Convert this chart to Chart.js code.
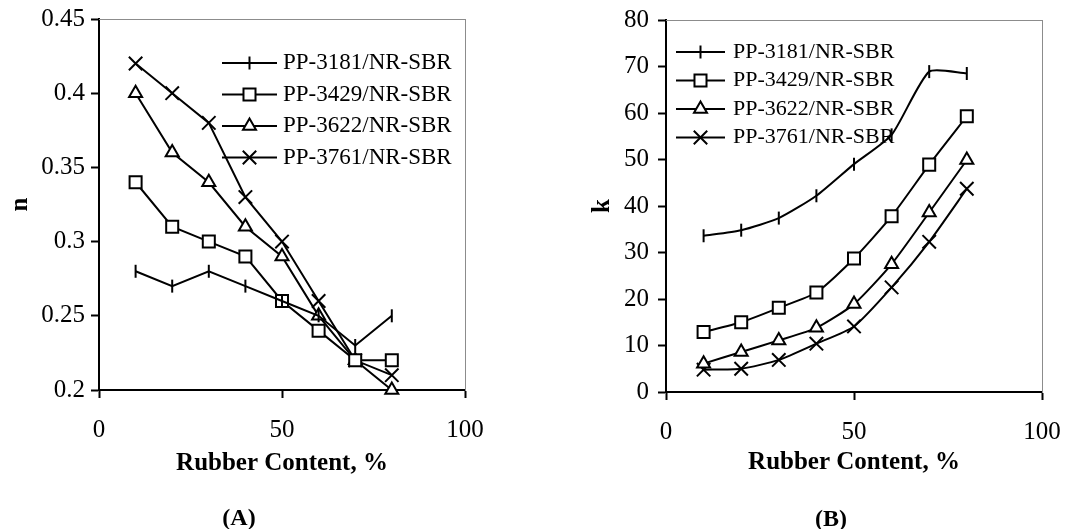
<!DOCTYPE html>
<html><head><meta charset="utf-8">
<script src="https://cdn.jsdelivr.net/npm/chart.js@4/dist/chart.umd.min.js"></script>
<style>
html,body{margin:0;padding:0;background:#fff;}
#wrap{position:relative;width:1076px;height:529px;overflow:hidden;background:#fff;}
.box{position:absolute;top:0;height:529px;}
.cap{position:absolute;font:bold 24px "Liberation Serif";color:#000;transform:translate(-50%,-50%);white-space:nowrap;}
</style></head><body>
<div id="wrap">
<div class="box" style="left:0;width:540px"><canvas id="cA"></canvas></div>
<div class="box" style="left:540px;width:536px"><canvas id="cB"></canvas></div>
<div class="cap" style="left:239px;top:517px">(A)</div>
<div class="cap" style="left:831px;top:518px">(B)</div>
</div>
<script>
// ---- data ----
const rubberContent = [10, 20, 30, 40, 50, 60, 70, 80];
const seriesNames = ['PP-3181/NR-SBR', 'PP-3429/NR-SBR', 'PP-3622/NR-SBR', 'PP-3761/NR-SBR'];

const n3181 = [0.28, 0.27, 0.28, 0.27, 0.26, 0.25, 0.23, 0.25];
const n3429 = [0.34, 0.31, 0.30, 0.29, 0.26, 0.24, 0.22, 0.22];
const n3622 = [0.40, 0.36, 0.34, 0.31, 0.29, 0.25, 0.22, 0.20];
const n3761 = [0.42, 0.40, 0.38, 0.33, 0.30, 0.26, 0.22, 0.21];

const k3181 = [33.6, 34.8, 37.4, 42.2, 49.0, 55.3, 68.9, 68.5];
const k3429 = [12.9, 15.0, 18.1, 21.4, 28.7, 37.8, 48.9, 59.3];
const k3622 = [6.1, 8.6, 11.1, 13.8, 18.9, 27.5, 38.6, 49.9];
const k3761 = [4.8, 5.0, 6.9, 10.4, 14.1, 22.5, 32.3, 43.7];

const xTickValues = [0, 50, 100];
const xTickLabels = ['0', '50', '100'];
const nTickLabels = ['0.2', '0.25', '0.3', '0.35', '0.4', '0.45'];
const kTickLabels = ['0', '10', '20', '30', '40', '50', '60', '70', '80'];

const xTitle = 'Rubber Content, %';

// ---- styles ----
const FONT = 'Liberation Serif';
const markerStyles = [
  {pointStyle: 'line', rotation: 90, radius: 6.5},
  {pointStyle: 'rect', rotation: 0, radius: 8.5},
  {pointStyle: 'triangle', rotation: 0, radius: 7.5},
  {pointStyle: 'crossRot', rotation: 0, radius: 9.5}
];

function pts(vals) { return rubberContent.map((x, i) => ({x: x, y: vals[i]})); }

function makeDatasets(seriesList, tension) {
  return seriesList.map((vals, i) => ({
    label: seriesNames[i],
    data: pts(vals),
    borderColor: '#000',
    backgroundColor: '#fff',
    borderWidth: 2,
    pointBorderColor: '#000',
    pointBackgroundColor: '#fff',
    pointBorderWidth: 2,
    pointStyle: markerStyles[i].pointStyle,
    pointRotation: markerStyles[i].rotation,
    pointRadius: markerStyles[i].radius,
    tension: tension,
    clip: false,
    fill: false
  }));
}

const inlineLegend = {
  id: 'inlineLegend',
  afterDatasetsDraw(chart, args, o) {
    const ctx = chart.ctx, a = chart.chartArea;
    ctx.save();
    chart.data.datasets.forEach((ds, i) => {
      const y = a.top + o.top + i * o.rowH;
      const x0 = a.left + o.left, x1 = x0 + o.lineLen;
      ctx.strokeStyle = '#000'; ctx.lineWidth = 2;
      ctx.beginPath(); ctx.moveTo(x0, y); ctx.lineTo(x1, y); ctx.stroke();
      const el = chart.getDatasetMeta(i).data[0];
      if (el) {
        const ox = el.x, oy = el.y;
        el.x = (x0 + x1) / 2; el.y = y;
        el.draw(ctx, {left: -1e5, top: -1e5, right: 1e5, bottom: 1e5});
        el.x = ox; el.y = oy;
      }
      ctx.fillStyle = '#000';
      ctx.font = o.fontSize + 'px "' + FONT + '"';
      ctx.textAlign = 'left'; ctx.textBaseline = 'middle';
      ctx.fillText(ds.label, x1 + o.gap, y);
    });
    ctx.restore();
  }
};

function makeChart(id, cfg) {
  return new Chart(document.getElementById(id), {
    type: 'line',
    data: {datasets: makeDatasets(cfg.series, cfg.tension)},
    plugins: [inlineLegend],
    options: {
      responsive: true,
      maintainAspectRatio: false,
      animation: false,
      events: [],
      layout: {padding: cfg.pad},
      plugins: {
        legend: {display: false},
        tooltip: {enabled: false},
        inlineLegend: cfg.legend
      },
      scales: {
        x: {
          type: 'linear', position: 'bottom', min: 0, max: 100,
          ticks: {stepSize: 50, color: '#000', font: {family: FONT, size: 25}, padding: 17, maxRotation: 0,
            callback: (v) => { const j = xTickValues.indexOf(v); return j >= 0 ? xTickLabels[j] : ''; }},
          grid: {display: true, drawOnChartArea: false, drawTicks: true, tickLength: 8, tickWidth: 2, tickColor: '#000'},
          border: {display: true, color: '#000', width: 2},
          title: {display: true, text: xTitle, color: '#000', font: {family: FONT, size: 25, weight: 'bold'}, padding: {top: 0, bottom: cfg.xTitlePadB}},
          afterFit: (s) => { s.height = cfg.xH; s.paddingLeft = 0; s.paddingRight = 0; }
        },
        y: {
          type: 'linear', position: 'left', min: cfg.yMin, max: cfg.yMax,
          ticks: {stepSize: cfg.yStep, color: '#000', font: {family: FONT, size: 25}, padding: cfg.yPad,
            callback: (v, i) => cfg.yLabels[i] !== undefined ? cfg.yLabels[i] : ''},
          grid: {display: true, drawOnChartArea: false, drawTicks: true, tickLength: 8, tickWidth: 2, tickColor: '#000'},
          border: {display: true, color: '#000', width: 2},
          title: {display: true, text: cfg.yTitle, color: '#000', font: {family: FONT, size: 25, weight: 'bold'}, padding: {top: cfg.yTitlePadT, bottom: 0}},
          afterFit: (s) => { s.width = cfg.yW; s.paddingTop = 0; s.paddingBottom = 0; }
        },
        xTop: {
          type: 'linear', position: 'top', min: 0, max: 100,
          ticks: {display: false},
          grid: {display: true, drawOnChartArea: false, drawTicks: false},
          border: {display: true, color: '#8c8c8c', width: 1},
          afterFit: (s) => { s.height = 0; }
        },
        yRight: {
          type: 'linear', position: 'right', min: 0, max: 1,
          ticks: {display: false},
          grid: {display: true, drawOnChartArea: false, drawTicks: false},
          border: {display: true, color: '#8c8c8c', width: 1},
          afterFit: (s) => { s.width = 0; }
        }
      }
    }
  });
}

makeChart('cA', {
  series: [n3181, n3429, n3622, n3761], tension: 0,
  pad: {left: 0, top: 19, right: 75, bottom: 0},
  yMin: 0.2, yMax: 0.45, yStep: 0.05, yLabels: nTickLabels, yTitle: 'n', yPad: 6,
  yW: 99, yTitlePadT: 6, xH: 139, xTitlePadB: 50,
  legend: {left: 123, top: 44, rowH: 31.5, lineLen: 55, gap: 6, fontSize: 23}
});

makeChart('cB', {
  series: [k3181, k3429, k3622, k3761], tension: 0.2,
  pad: {left: 40, top: 20, right: 34, bottom: 0},
  yMin: 0, yMax: 80, yStep: 10, yLabels: kTickLabels, yTitle: 'k', yPad: 9,
  yW: 86, yTitlePadT: 7.6, xH: 137, xTitlePadB: 51,
  legend: {left: 10, top: 32, rowH: 28.5, lineLen: 49, gap: 8, fontSize: 22}
});
</script>
</body></html>
